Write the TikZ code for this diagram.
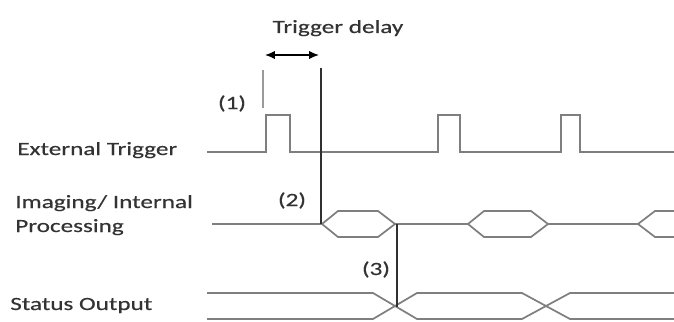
\documentclass[tikz,border=0pt]{standalone}
\usepackage{fontspec}
\setmainfont{Carlito}[FakeStretch=1.35,FakeBold=0.4]
\usepackage{xcolor}
\usepackage{tikz}
\usetikzlibrary{arrows.meta}
\definecolor{tdInk}{HTML}{333333}
\definecolor{tdWave}{HTML}{7F7F7F}
\definecolor{tdMark}{HTML}{9A9A9A}
\definecolor{tdEdge}{HTML}{303030}
\tikzset{
  td diagram/.style={x=0.75pt, y=-0.75pt, font=\fontsize{14}{18}\selectfont,
    text=tdInk, line join=miter},
  td wave/.style={draw=tdWave, line width=1.3pt},
  td edge/.style={draw=tdEdge, line width=1pt},
  td faint/.style={draw=tdMark, line width=1.2pt},
  td delay/.style={{Latex[length=2.6mm,width=2.2mm]}-{Latex[length=2.6mm,width=2.2mm]},
    draw=black, line width=1.1pt},
  td label/.style={anchor=base west, inner sep=0pt},
  td note/.style={anchor=base, inner sep=0pt}
}
\begin{document}
\begin{tikzpicture}[td diagram]
\useasboundingbox (0,0) rectangle (674,321);
% signal names
\node[td label] (ext) at (17,155) {External Trigger};
\node[td label] (img) at (15,208) {Imaging/ Internal};
\node[td label] (proc) at (15,232) {Processing};
\node[td label] (stat) at (10,310) {Status Output};
% trigger pulses
\draw[td wave] (207,152)
  foreach \a/\b in {266/290,438/460,561/580} { -- (\a,152) -- (\a,115) -- (\b,115) -- (\b,152) }
  -- (674,152);
% processing windows
\draw[td wave] (212,224) -- (322,224) (395,224) -- (468,224) (548,224) -- (638,224);
\foreach \a/\b in {322/395,468/548}
  \draw[td wave] (\a,224) -- (\a+16,211) -- (\b-17,211) -- (\b,224)
    -- (\b-17,237) -- (\a+16,237) -- cycle;
\draw[td wave] (676,211) -- (655,211) -- (638,224) -- (655,237) -- (676,237);
% status bus
\draw[td wave] (207,293) -- (373,293) -- (417,319) -- (522,319) -- (570,293) -- (674,293);
\draw[td wave] (207,319) -- (373,319) -- (417,293) -- (522,293) -- (570,319) -- (674,319);
% event markers
\coordinate (m1 top) at (263,70);
\coordinate (m1 foot) at (263,108);
\coordinate (m2 top) at (321,68);
\coordinate (m2 foot) at (321,224);
\coordinate (m3 top) at (397,224);
\coordinate (m3 foot) at (397,307);
\draw[td faint] (m1 top) -- (m1 foot);
\draw[td edge] (m2 top) -- (m2 foot);
\draw[td edge] (m3 top) -- (m3 foot);
\coordinate (dl) at (265,55);
\coordinate (dr) at (319,55);
\draw[td delay] (dl) -- (dr);
\node[td note] (delay) at (338,33) {Trigger delay};
\node[td note] (n1) at (232,109) {(1)};
\node[td note] (n2) at (292,206) {(2)};
\node[td note] (n3) at (376,275) {(3)};
\end{tikzpicture}
\end{document}
